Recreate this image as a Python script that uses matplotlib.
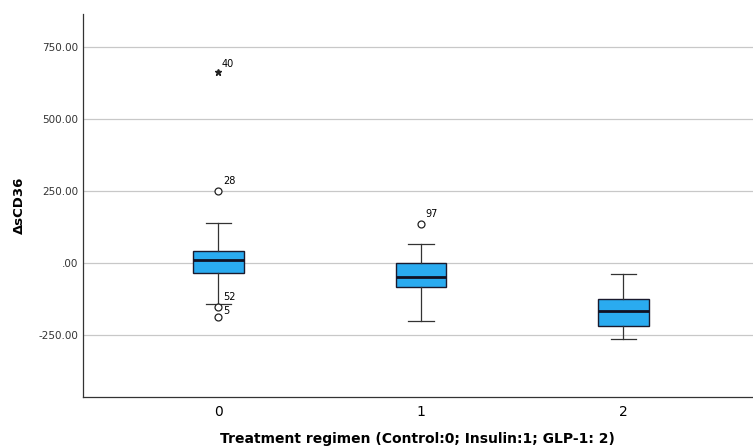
import numpy as np
import matplotlib.pyplot as plt

groups = ["0", "1", "2"]
whislo = [-142, -201, -263]
q1 = [-36, -84, -220]
med = [11, -50, -167]
q3 = [41, -1, -124]
whishi = [139, 66, -37]

# outliers: group index, value, case label, extreme?
out_group = [0, 0, 0, 0, 1]
out_value = [663, 250, -152, -189, 135]
out_label = ["40", "28", "52", "5", "97"]
out_extreme = [True, False, False, False, False]
# label offsets in points (hand placed so 52 and 5 don't collide)
out_offset = [(2, 6), (3.5, 7), (3.5, 7), (3.5, 4.5), (3.5, 7)]

yticks = [-250, 0, 250, 500, 750]
ytick_labels = ["-250.00", ".00", "250.00", "500.00", "750.00"]

fig = plt.figure(figsize=(7.53, 4.46), dpi=100)
ax = fig.add_axes([0.110, 0.110, 0.890, 0.859])

stats = []
for i in range(len(groups)):
    stats.append(dict(whislo=whislo[i], q1=q1[i], med=med[i], q3=q3[i], whishi=whishi[i], fliers=[]))

pos = np.arange(len(groups))
ax.bxp(stats, positions=pos, widths=0.25, patch_artist=True, showfliers=False,
       boxprops=dict(facecolor="#2aabf0", edgecolor="#1a1a2e", linewidth=1.0),
       medianprops=dict(color="#111122", linewidth=2.0),
       whiskerprops=dict(color="#333333", linewidth=0.9),
       capprops=dict(color="#333333", linewidth=0.9),
       capwidths=0.125, zorder=3)

for g, v, lab, ext, off in zip(out_group, out_value, out_label, out_extreme, out_offset):
    if ext:
        ax.plot(g, v, marker="*", color="#222222", markersize=5, zorder=4)
    else:
        ax.plot(g, v, marker="o", markerfacecolor="white", markeredgecolor="#222222",
                markersize=5, markeredgewidth=0.9, zorder=4)
    ax.annotate(lab, (g, v), xytext=off, textcoords="offset points", fontsize=7, va="center")

ax.set_xlim(-0.67, 2.64)
ax.set_ylim(-465, 865)
ax.set_xticks(pos)
ax.set_xticklabels(groups, fontsize=10)
ax.set_yticks(yticks)
ax.set_yticklabels(ytick_labels, fontsize=7.5, color="#333333")
ax.tick_params(axis="y", length=0, pad=3)
ax.tick_params(axis="x", length=0, pad=6)
ax.grid(axis="y", color="#c8c8c8", linewidth=0.9, zorder=0)
ax.set_axisbelow(True)
for s in ["top", "right"]:
    ax.spines[s].set_visible(False)
for s in ["left", "bottom"]:
    ax.spines[s].set_color("#333333")
    ax.spines[s].set_linewidth(0.9)

ax.set_xlabel("Treatment regimen (Control:0; Insulin:1; GLP-1: 2)", fontsize=10, fontweight="bold", labelpad=9)
ax.set_ylabel("ΔsCD36", fontsize=9.5, fontweight="bold", labelpad=9)

fig.savefig("out.png", dpi=100)
